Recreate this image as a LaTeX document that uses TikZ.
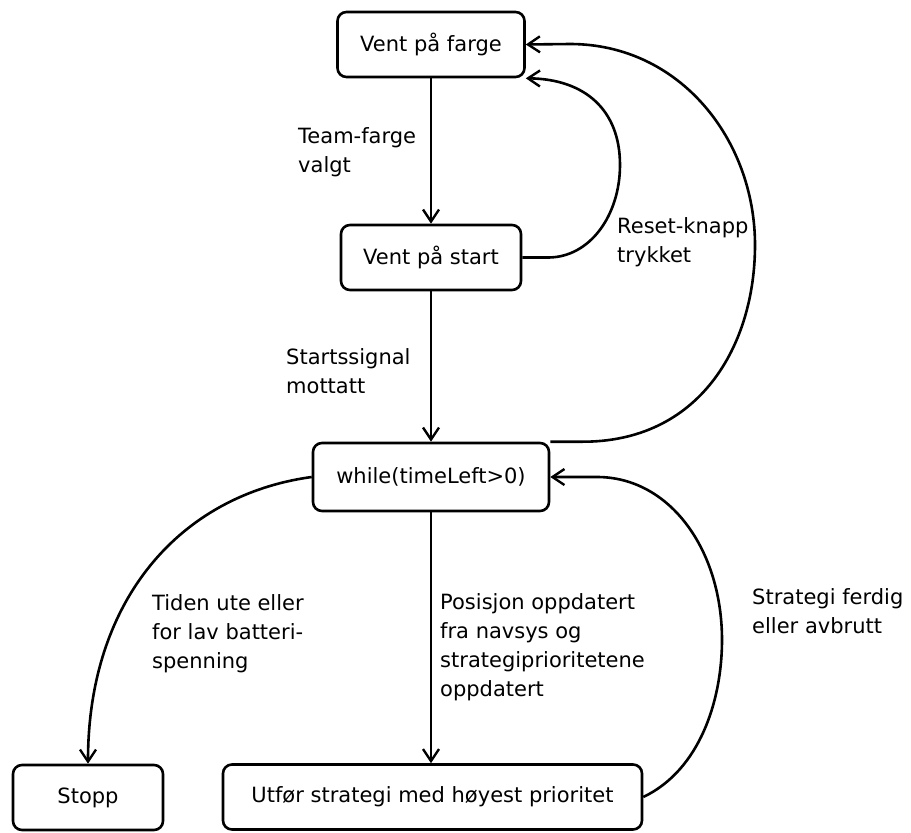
\documentclass[tikz,border=0pt]{standalone}
\usepackage{fontspec}
\setmainfont{DejaVu Sans}
\usetikzlibrary{arrows.meta}

\tikzset{
  state/.style={draw, line width=2.6pt, rounded corners=9pt, inner sep=0pt,
    minimum height=65pt, font=\fontsize{21}{29}\selectfont},
  trans/.style={line width=2.6pt, -{Straight Barb[length=12pt,width=16pt,line width=2.4pt]}},
  lbl/.style={align=left, anchor=base west, inner sep=0pt,
    font=\fontsize{21}{29}\selectfont}
}

\begin{document}
\begin{tikzpicture}[x=1pt, y=-1pt]
  \path[use as bounding box] (0,0) rectangle (911,833);

  % states
  \node[state, minimum width=187pt] (farge) at (431,44.5) {Vent på farge};
  \node[state, minimum width=180pt] (start) at (431,257.5) {Vent på start};
  \node[state, minimum width=236pt, minimum height=68pt] (loop) at (431,477) {while(timeLeft>0)};
  \node[state, minimum width=150pt] (stopp) at (88,797.5) {Stopp};
  \node[state, minimum width=419pt] (utfor) at (432.5,797) {Utfør strategi med høyest prioritet};

  % straight transitions
  \draw[trans] (farge.south) -- (start.north);
  \draw[trans] (start.south) -- (loop.north);
  \draw[trans] (loop.south) -- (loop.south |- utfor.north);

  % reset loops back to the first state
  \draw[trans] (start.east) -- ++(25,0)
    .. controls (590,258) and (620,215) .. (620,165)
    .. controls (620,110) and (585,79) .. (farge.south east);
  \draw[trans] (loop.north east) -- ++(30,0)
    .. controls (700,443) and (755,345) .. (755,245)
    .. controls (755,140) and (680,44) .. (570,44)
    -- (farge.east);

  % stopping
  \draw[trans] (loop.west) .. controls (180,495) and (88,600) .. (stopp.north);

  % strategy finished
  \draw[trans] (utfor.east) .. controls (700,770) and (722,700) .. (722,640)
    .. controls (722,550) and (670,477) .. (597,477) -- (loop.east);

  % labels (anchored at the baseline of their last line)
  \node[lbl] (l1) at (298,172) {Team-farge\\valgt};
  \node[lbl] (l2) at (617,262) {Reset-knapp\\trykket};
  \node[lbl] (l3) at (286,393) {Startssignal\\mottatt};
  \node[lbl] (l4) at (152,668) {Tiden ute eller\\for lav batteri-\\spenning};
  \node[lbl] (l5) at (440,696) {Posisjon oppdatert\\fra navsys og\\strategiprioritetene\\oppdatert};
  \node[lbl] (l6) at (752,633) {Strategi ferdig\\eller avbrutt};
\end{tikzpicture}
\end{document}
